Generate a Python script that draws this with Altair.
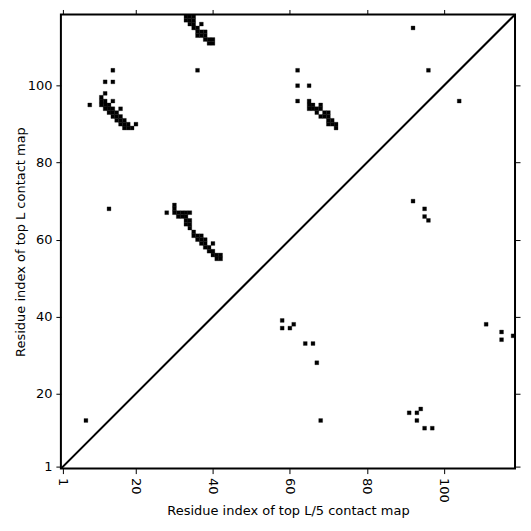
import altair as alt
import pandas as pd

L = 118
tick_vals = [1, 20, 40, 60, 80, 100]

# cluster near top (x 33-40, y 111-118)
a_i = [33, 34, 35, 33, 34, 35, 34, 35, 37, 35, 36, 36, 37, 38, 36, 37, 38, 38, 39, 40, 39, 40]
a_j = [118, 118, 118, 117, 117, 117, 116, 116, 116, 115, 115, 114, 114, 114, 113, 113, 113, 112, 112, 112, 111, 111]

# cluster upper-left (x 8-20, y 88-104)
b_i = [11, 11, 12, 11, 12, 13, 12, 13, 14, 13, 14, 15, 14, 15, 16, 15, 16, 17, 16, 17, 18, 17, 18, 19,
       8, 12, 14, 14, 12, 14, 16, 20]
b_j = [97, 96, 96, 95, 95, 95, 94, 94, 94, 93, 93, 93, 92, 92, 92, 91, 91, 91, 90, 90, 90, 89, 89, 89,
       95, 101, 101, 104, 98, 96, 94, 90]

# cluster middle-left (x 28-42, y 55-69)
c_i = [28, 30, 30, 30, 31, 32, 33, 34, 31, 32, 33, 33, 34, 33, 34, 34, 35, 35, 36, 37, 36, 37, 38,
       37, 38, 40, 38, 39, 39, 40, 40, 41, 42, 41, 42]
c_j = [67, 69, 68, 67, 67, 67, 67, 67, 66, 66, 66, 65, 65, 64, 64, 63, 62, 61, 61, 61, 60, 60, 60,
       59, 59, 59, 58, 58, 57, 57, 56, 56, 56, 55, 55]

# cluster upper-middle (x 62-72, y 89-104)
d_i = [62, 62, 65, 62, 65, 65, 66, 68, 65, 66, 67, 68, 67, 69, 70, 68, 69, 70, 70, 71, 70, 71, 72, 72]
d_j = [104, 100, 100, 96, 96, 95, 95, 95, 94, 94, 94, 94, 93, 93, 93, 92, 92, 92, 91, 91, 90, 90, 90, 89]

# scattered contacts
e_i = [7, 13, 36, 92, 96, 104, 92, 95, 95, 96,
       58, 58, 60, 61, 64, 66, 67, 68,
       111, 115, 115, 118,
       91, 93, 94, 93, 95, 97]
e_j = [13, 68, 104, 115, 104, 96, 70, 68, 66, 65,
       39, 37, 37, 38, 33, 33, 28, 13,
       38, 36, 34, 35,
       15, 15, 16, 13, 11, 11]

df = pd.DataFrame({"i": a_i + b_i + c_i + d_i + e_i,
                   "j": a_j + b_j + c_j + d_j + e_j})
diag = pd.DataFrame({"p": [0.5, L + 0.5]})

xs = alt.Scale(domain=[0.5, L + 0.5], nice=False, zero=False)
ys = alt.Scale(domain=[0.5, L + 0.5], nice=False, zero=False)

axis_common = dict(values=tick_vals, domain=False, grid=False, tickColor="black",
                   tickSize=5, tickWidth=1, labelFont="DejaVu Sans", labelFontSize=13,
                   labelColor="black", titleFont="DejaVu Sans", titleFontSize=13,
                   titleFontWeight="normal", titleColor="black")

rects = alt.Chart(df).transform_calculate(
    x1="datum.i - 0.5", x2="datum.i + 0.5", y1="datum.j - 0.5", y2="datum.j + 0.5"
).mark_rect(color="black", stroke="black", strokeWidth=0.3).encode(
    x=alt.X("x1:Q", scale=xs, axis=alt.Axis(title="Residue index of top L/5 contact map",
                                            labelAngle=90, labelAlign="left", labelBaseline="middle",
                                            labelPadding=4, titlePadding=2, **axis_common)),
    x2="x2:Q",
    y=alt.Y("y1:Q", scale=ys, axis=alt.Axis(title="Residue index of top L contact map",
                                            labelPadding=4, titlePadding=0, **axis_common)),
    y2="y2:Q",
)

line = alt.Chart(diag).mark_line(color="black", strokeWidth=2, clip=True).encode(
    x=alt.X("p:Q", scale=xs, axis=alt.Axis(orient="top", labels=False, title=None, **axis_common)),
    y=alt.Y("p:Q", scale=ys, axis=alt.Axis(orient="right", labels=False, title=None, **axis_common)),
)

chart = alt.layer(rects, line).resolve_axis(x="independent", y="independent").properties(
    width=455, height=455,
    autosize=alt.AutoSizeParams(type="none"),
    padding={"left": 53, "top": 6, "right": 8, "bottom": 52},
).configure_view(stroke="black", strokeWidth=2)

chart.save("out.html", embed_options={"renderer": "svg", "actions": False})
